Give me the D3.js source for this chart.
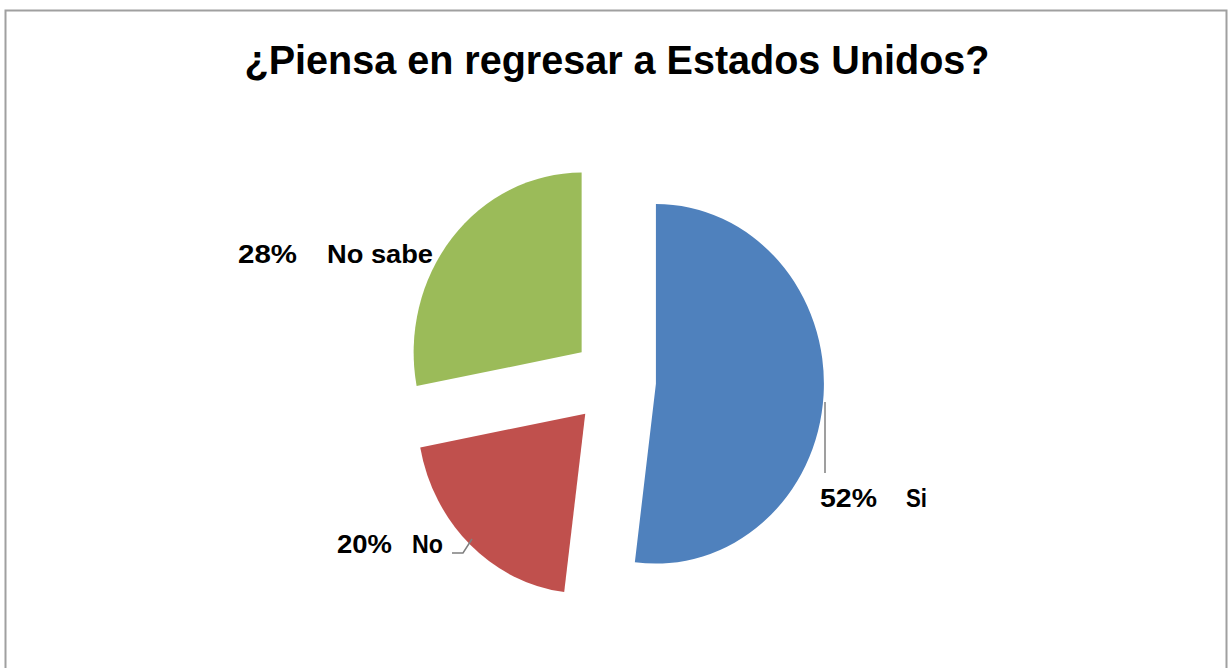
<!DOCTYPE html>
<html>
<head>
<meta charset="utf-8">
<script src="https://cdn.jsdelivr.net/npm/d3@7"></script>
<style>
  html, body { margin: 0; padding: 0; background: #fff; }
  svg { display: block; }
  text { font-family: "Liberation Sans", Arial, sans-serif; font-weight: bold; fill: #000; }
</style>
</head>
<body>
<svg id="chart"></svg>
<script>
const width = 1228;
const height = 668;

const titleText = "¿Piensa en regresar a Estados Unidos?";
const categories = ["Si", "No", "No sabe"];
const values = [52, 20, 28];
const colors = ["#4F81BD", "#C0504D", "#9BBB59"];

const svg = d3.select("#chart")
    .attr("width", width)
    .attr("height", height);

// chart area border
svg.append("path")
   .attr("d", `M5.5,${height + 2} V10.5 H1226.5 V${height + 2}`)
   .attr("fill", "none")
   .attr("stroke", "#a0a0a0")
   .attr("stroke-width", 2);

svg.append("text")
   .attr("x", 617)
   .attr("y", 74)
   .attr("text-anchor", "middle")
   .attr("font-size", 41)
   .attr("textLength", 745)
   .attr("lengthAdjust", "spacingAndGlyphs")
   .text(titleText);

const cx = 614, cy = 381;
const radius = 168;
const explode = 42;

const pie = d3.pie().sort(null).value(d => d)(values);
const arc = d3.arc().innerRadius(0).outerRadius(radius);

// the picture is a bit taller than wide, so stretch the pie vertically
const g = svg.append("g")
    .attr("transform", `translate(${cx},${cy}) scale(1,1.07)`);

g.selectAll("path")
 .data(pie)
 .enter()
 .append("path")
 .attr("d", arc)
 .attr("fill", (d, i) => colors[i])
 .attr("transform", d => {
     let mid = (d.startAngle + d.endAngle) / 2;
     return `translate(${explode * Math.sin(mid)},${-explode * Math.cos(mid)})`;
 });

// labels: [x of percent, width, x of name, width, baseline]
const labelPos = [
    [820, 57, 906, 21, 507],
    [337, 55, 412, 31, 553],
    [238, 59, 327, 106, 263]
];

const fmt = d3.format(".0%");

labelPos.forEach((p, i) => {
    svg.append("text")
       .attr("x", p[0])
       .attr("y", p[4])
       .attr("font-size", 25)
       .attr("textLength", p[1])
       .attr("lengthAdjust", "spacingAndGlyphs")
       .text(fmt(values[i] / 100));
    svg.append("text")
       .attr("x", p[2])
       .attr("y", p[4])
       .attr("font-size", 25)
       .attr("textLength", p[3])
       .attr("lengthAdjust", "spacingAndGlyphs")
       .text(categories[i]);
});

// leader lines
svg.append("path")
   .attr("d", "M825,402 V473")
   .attr("fill", "none")
   .attr("stroke", "#7f7f7f")
   .attr("stroke-width", 1.5);

svg.append("path")
   .attr("d", "M452,553 H463 L472,539")
   .attr("fill", "none")
   .attr("stroke", "#7f7f7f")
   .attr("stroke-width", 1.5);
</script>
</body>
</html>
